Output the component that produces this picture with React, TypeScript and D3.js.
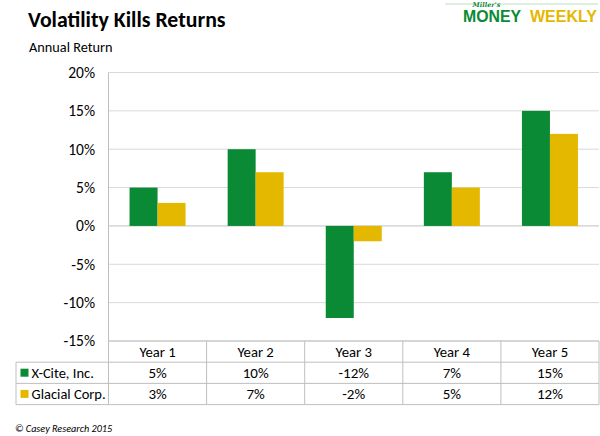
import React from "react";
import * as d3 from "d3";

const categories = ["Year 1", "Year 2", "Year 3", "Year 4", "Year 5"];
const seriesNames = ["X-Cite, Inc.", "Glacial Corp."];
const xcite = [5, 10, -12, 7, 15];
const glacial = [3, 7, -2, 5, 12];
const yTicks = [20, 15, 10, 5, 0, -5, -10, -15];
const colors = ["#0A8A34", "#E5B800"];

const W = 600, H = 436;
const plotL = 108.5, plotR = 599;
const plotT = 72.5, plotB = 341;
const rowH = 21.2;
const legendL = 16;
const font = "Carlito, Calibri, Lato, sans-serif";
const fs = 14.7;

export default function App() {
  const x = d3.scaleBand<string>().domain(categories).range([plotL, plotR]);
  const y = d3.scaleLinear().domain([-15, 20]).range([plotB, plotT]);
  const inner = d3.scaleBand<string>().domain(seriesNames).range([0, 56]);
  const series = [xcite, glacial];
  const bw = x.bandwidth();
  const tableRows = [plotB, plotB + rowH, plotB + 2 * rowH, plotB + 3 * rowH];
  return (
    <svg width={W} height={H} style={{ position: "absolute", left: 0, top: 0 }} fontFamily={font}>
      <rect width={W} height={H} fill="#fff" />
      <text x={28} y={27} fontSize={21.8} fontWeight="bold" fill="#000">Volatility Kills Returns</text>
      <text x={29} y={52} fontSize={14.3} fill="#000">Annual Return</text>
      {/* logo */}
      <line x1={445} x2={476} y1={4} y2={4} stroke="#9fd3a8" strokeWidth={0.7} />
      <line x1={497} x2={598} y1={4} y2={4} stroke="#9fd3a8" strokeWidth={0.7} />
      <text x={486.5} y={6.5} fontSize={6.5} fontStyle="italic" fontWeight="bold" fill="#0A8A34" textAnchor="middle" fontFamily="'DejaVu Serif', serif">Miller's</text>
      <text x={463} y={22} fontSize={16} fontWeight="bold" fill="#0A8A34" textLength={58} lengthAdjust="spacingAndGlyphs" fontFamily="'Liberation Sans', sans-serif">MONEY</text>
      <text x={530} y={22} fontSize={16} fontWeight="bold" fill="#E5B800" textLength={67} lengthAdjust="spacingAndGlyphs" fontFamily="'Liberation Sans', sans-serif">WEEKLY</text>
      {/* gridlines */}
      {yTicks.map((t) => (
        <line key={t} x1={plotL} x2={plotR} y1={y(t)} y2={y(t)} stroke={t === 0 ? "#c0c0c0" : "#d9d9d9"} strokeWidth={1} />
      ))}
      {yTicks.map((t) => (
        <text key={"l" + t} x={95} y={y(t) + 5.3} fontSize={15.5} textAnchor="end" fill="#000">{t + "%"}</text>
      ))}
      {/* bars */}
      {categories.map((c, i) =>
        series.map((s, j) => {
          const v = s[i];
          const x0 = (x(c) as number) + (bw - 56) / 2 + (inner(seriesNames[j]) as number);
          return (
            <rect key={c + j} x={x0} width={inner.bandwidth()} y={Math.min(y(v), y(0))} height={Math.abs(y(v) - y(0))} fill={colors[j]} />
          );
        })
      )}
      {/* axis line */}
      <line x1={plotL} x2={plotL} y1={plotT} y2={tableRows[3]} stroke="#bfbfbf" />
      {/* table */}
      <line x1={plotL} x2={plotR} y1={tableRows[0]} y2={tableRows[0]} stroke="#bfbfbf" />
      {[1, 2, 3].map((r) => (
        <line key={"h" + r} x1={legendL} x2={plotR} y1={tableRows[r]} y2={tableRows[r]} stroke="#bfbfbf" />
      ))}
      <line x1={legendL} x2={legendL} y1={tableRows[1]} y2={tableRows[3]} stroke="#bfbfbf" />
      {categories.map((c) => (
        <line key={"v" + c} x1={(x(c) as number) + bw} x2={(x(c) as number) + bw} y1={tableRows[0]} y2={tableRows[3]} stroke="#bfbfbf" />
      ))}
      {categories.map((c) => (
        <text key={"c" + c} x={(x(c) as number) + bw / 2} y={tableRows[0] + 15.5} fontSize={fs} textAnchor="middle">{c}</text>
      ))}
      {series.map((s, j) => (
        <g key={"r" + j}>
          <rect x={20.5} y={tableRows[j + 1] + 6.5} width={8} height={8} fill={colors[j]} />
          <text x={31.5} y={tableRows[j + 1] + 15.5} fontSize={14.5}>{seriesNames[j]}</text>
          {categories.map((c, i) => (
            <text key={c} x={(x(c) as number) + bw / 2} y={tableRows[j + 1] + 15.5} fontSize={15} textAnchor="middle">{s[i] + "%"}</text>
          ))}
        </g>
      ))}
      <text x={15} y={432} fontSize={10.2} fontStyle="italic">© Casey Research 2015</text>
    </svg>
  );
}
